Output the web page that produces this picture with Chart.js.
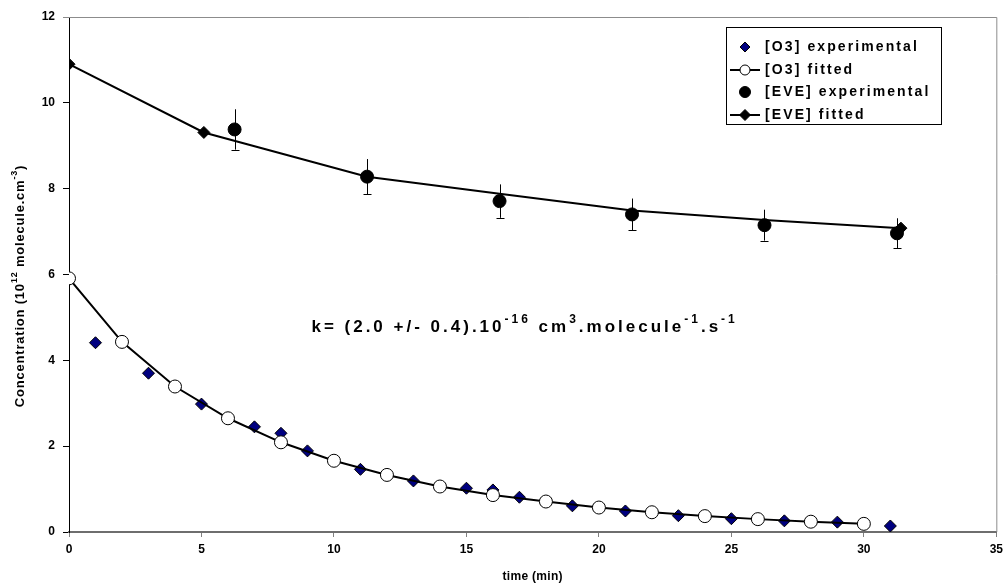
<!DOCTYPE html>
<html>
<head>
<meta charset="utf-8">
<script src="https://cdn.jsdelivr.net/npm/chart.js@4.4.1/dist/chart.umd.min.js"></script>
<style>
  html, body { margin: 0; padding: 0; background: #fff; }
  #wrap { width: 1008px; height: 587px; }
</style>
</head>
<body>
<div id="wrap"><canvas id="kinetics-chart"></canvas></div>
<script>
// values (time in min, concentration in 10^12 molecule.cm-3)
const o3Times = [1, 3, 5, 7, 8, 9, 11, 13, 15, 16, 17, 19, 21, 23, 25, 27, 29, 31];
const o3Exp = [4.41, 3.70, 2.98, 2.45, 2.30, 1.89, 1.46, 1.19, 1.02, 0.98, 0.81, 0.61, 0.49, 0.38, 0.31, 0.26, 0.23, 0.14];

const o3FitTimes = [0, 2, 4, 6, 8, 10, 12, 14, 16, 18, 20, 22, 24, 26, 28, 30];
const o3Fit = [5.91, 4.43, 3.39, 2.65, 2.09, 1.66, 1.33, 1.06, 0.86, 0.71, 0.57, 0.46, 0.37, 0.30, 0.24, 0.19];

const eveTimes = [6.25, 11.25, 16.25, 21.25, 26.25, 31.25];
const eveExp = [9.38, 8.28, 7.71, 7.40, 7.15, 6.96];
const eveErr = [0.47, 0.41, 0.39, 0.37, 0.36, 0.35];

const eveFitTimes = [0, 5.09, 11.25, 16.25, 21.25, 26.25, 31.4];
const eveFit = [10.90, 9.31, 8.28, 7.88, 7.49, 7.27, 7.08];
const eveFitMarkers = [6, 6, 0, 0, 0, 0, 6];

const xTicks = { min: 0, max: 35, step: 5 };
const yTicks = { min: 0, max: 12, step: 2 };

const FONT = '"Liberation Sans", Arial, sans-serif';

const annotation = [
  { t: "k= (2.0 +/- 0.4).10" }, { t: "-16", sup: true },
  { t: " cm" }, { t: "3", sup: true },
  { t: ".molecule" }, { t: "-1", sup: true },
  { t: ".s" }, { t: "-1", sup: true },
];
const yTitle = [
  { t: "Concentration (10" }, { t: "12", sup: true },
  { t: " molecule.cm" }, { t: "-3", sup: true }, { t: ")" },
];

function pts(xs, ys) {
  return xs.map((x, i) => ({ x, y: ys[i] }));
}

function richWidth(ctx, parts, size, supSize, spacing) {
  let w = 0;
  for (const p of parts) {
    ctx.font = `bold ${p.sup ? supSize : size}px ${FONT}`;
    ctx.letterSpacing = spacing + "px";
    w += ctx.measureText(p.t).width;
  }
  return w;
}

function drawRich(ctx, parts, x, y, size, supSize, spacing) {
  let cx = x;
  ctx.textBaseline = "middle";
  ctx.textAlign = "left";
  for (const p of parts) {
    ctx.font = `bold ${p.sup ? supSize : size}px ${FONT}`;
    ctx.letterSpacing = spacing + "px";
    ctx.fillText(p.t, cx, p.sup ? y - size * 0.42 : y);
    cx += ctx.measureText(p.t).width;
  }
  ctx.letterSpacing = "0px";
}

function marker(ctx, style, x, y, r, fill, stroke) {
  ctx.beginPath();
  if (style === "rectRot") {
    ctx.moveTo(x, y - r);
    ctx.lineTo(x + r, y);
    ctx.lineTo(x, y + r);
    ctx.lineTo(x - r, y);
    ctx.closePath();
  } else {
    ctx.arc(x, y, r, 0, Math.PI * 2);
  }
  ctx.fillStyle = fill;
  ctx.fill();
  ctx.lineWidth = 1;
  ctx.strokeStyle = stroke;
  ctx.stroke();
}

const errorBars = {
  id: "errorBars",
  afterDatasetsDraw(chart) {
    const { ctx, scales: { x, y } } = chart;
    ctx.save();
    ctx.strokeStyle = "#000";
    ctx.lineWidth = 1;
    eveTimes.forEach((t, i) => {
      const px = Math.round(x.getPixelForValue(t)) + 0.5;
      const top = y.getPixelForValue(eveExp[i] + eveErr[i]);
      const bot = y.getPixelForValue(eveExp[i] - eveErr[i]);
      ctx.beginPath();
      ctx.moveTo(px, top);
      ctx.lineTo(px, bot);
      ctx.moveTo(px - 4, Math.round(bot) + 0.5);
      ctx.lineTo(px + 4, Math.round(bot) + 0.5);
      ctx.stroke();
    });
    ctx.restore();
  },
};

const frame = {
  id: "frame",
  beforeDatasetsDraw(chart) {
    const { ctx, chartArea: a } = chart;
    ctx.save();
    ctx.strokeStyle = "#8c8c8c";
    ctx.lineWidth = 1;
    ctx.beginPath();
    ctx.moveTo(a.left - 6, a.top + 0.5);
    ctx.lineTo(a.right + 0.5, a.top + 0.5);
    ctx.lineTo(a.right + 0.5, a.bottom);
    ctx.stroke();
    ctx.restore();
  },
};

const texts = {
  id: "texts",
  afterDraw(chart) {
    const { ctx, chartArea: a, scales: { x, y } } = chart;
    ctx.save();
    ctx.fillStyle = "#000";

    // k annotation
    drawRich(ctx, annotation, x.getPixelForValue(9.15), y.getPixelForValue(4.78), 17, 12, 3);

    // x title
    ctx.font = `bold 12px ${FONT}`;
    ctx.letterSpacing = "0.3px";
    ctx.textAlign = "center";
    ctx.textBaseline = "middle";
    ctx.fillText("time (min)", (a.left + a.right) / 2, 577);

    // y title, rotated
    const w = richWidth(ctx, yTitle, 13, 9, 0.8);
    ctx.translate(20, 286);
    ctx.rotate(-Math.PI / 2);
    drawRich(ctx, yTitle, -w / 2, 0, 13, 9, 0.8);
    ctx.restore();

    // legend box
    ctx.save();
    const bx = 726, by = 27, bw = 215, bh = 97;
    ctx.fillStyle = "#fff";
    ctx.fillRect(bx, by, bw, bh);
    ctx.strokeStyle = "#000";
    ctx.lineWidth = 1;
    ctx.strokeRect(bx + 0.5, by + 0.5, bw, bh);
    const rows = [47, 70, 92, 115];
    chart.data.datasets.forEach((ds, i) => {
      const ry = rows[i];
      if (ds.showLine) {
        ctx.strokeStyle = "#000";
        ctx.lineWidth = 2;
        ctx.beginPath();
        ctx.moveTo(730, ry);
        ctx.lineTo(760, ry);
        ctx.stroke();
      }
      const fill = ds.pointBackgroundColor || ds.backgroundColor;
      const stroke = ds.pointBorderColor || ds.borderColor;
      marker(ctx, ds.pointStyle, 745, ry, ds.legendRadius, fill, stroke);
      ctx.fillStyle = "#000";
      ctx.font = `bold 14px ${FONT}`;
      ctx.letterSpacing = "2.1px";
      ctx.textAlign = "left";
      ctx.textBaseline = "middle";
      ctx.fillText(ds.label, 765, ry);
    });
    ctx.restore();
  },
};

const ctx = document.getElementById("kinetics-chart").getContext("2d");
new Chart(ctx, {
  type: "scatter",
  data: {
    datasets: [
      {
        label: "[O3] experimental",
        data: pts(o3Times, o3Exp),
        pointStyle: "rectRot",
        pointRadius: 6,
        backgroundColor: "#000080",
        borderColor: "#000000",
        borderWidth: 1,
        legendRadius: 5,
        order: 4,
      },
      {
        label: "[O3] fitted",
        data: pts(o3FitTimes, o3Fit),
        showLine: true,
        borderColor: "#000000",
        borderWidth: 2,
        pointStyle: "circle",
        pointRadius: 6.5,
        pointBackgroundColor: "#ffffff",
        pointBorderColor: "#000000",
        pointBorderWidth: 1,
        legendRadius: 5,
        order: 3,
      },
      {
        label: "[EVE] experimental",
        data: pts(eveTimes, eveExp),
        pointStyle: "circle",
        pointRadius: 6.5,
        backgroundColor: "#000000",
        borderColor: "#000000",
        legendRadius: 5.5,
        order: 1,
      },
      {
        label: "[EVE] fitted",
        data: pts(eveFitTimes, eveFit),
        showLine: true,
        borderColor: "#000000",
        borderWidth: 2,
        pointStyle: "rectRot",
        pointRadius: eveFitMarkers,
        pointBackgroundColor: "#000000",
        pointBorderColor: "#000000",
        pointBorderWidth: 1,
        legendRadius: 5.5,
        order: 2,
      },
    ],
  },
  options: {
    responsive: true,
    maintainAspectRatio: false,
    animation: false,
    devicePixelRatio: 1,
    layout: { padding: { top: 17, right: 11, left: 0, bottom: 0 } },
    plugins: { legend: { display: false }, tooltip: { enabled: false } },
    elements: { line: { tension: 0 } },
    scales: {
      x: {
        type: "linear",
        min: xTicks.min,
        max: xTicks.max,
        ticks: { stepSize: xTicks.step, color: "#000", font: { family: FONT, size: 12, weight: "bold" }, padding: 5 },
        grid: { drawOnChartArea: false, tickLength: 5, color: "#808080" },
        border: { color: "#6e6e6e", width: 2 },
        afterFit: (s) => { s.height = 55; },
      },
      y: {
        min: yTicks.min,
        max: yTicks.max,
        ticks: { stepSize: yTicks.step, color: "#000", font: { family: FONT, size: 12, weight: "bold" }, padding: 8 },
        grid: { drawOnChartArea: false, tickLength: 6, color: "#000" },
        border: { color: "#000", width: 1 },
        afterFit: (s) => { s.width = 69; },
      },
    },
  },
  plugins: [frame, errorBars, texts],
});
</script>
</body>
</html>
